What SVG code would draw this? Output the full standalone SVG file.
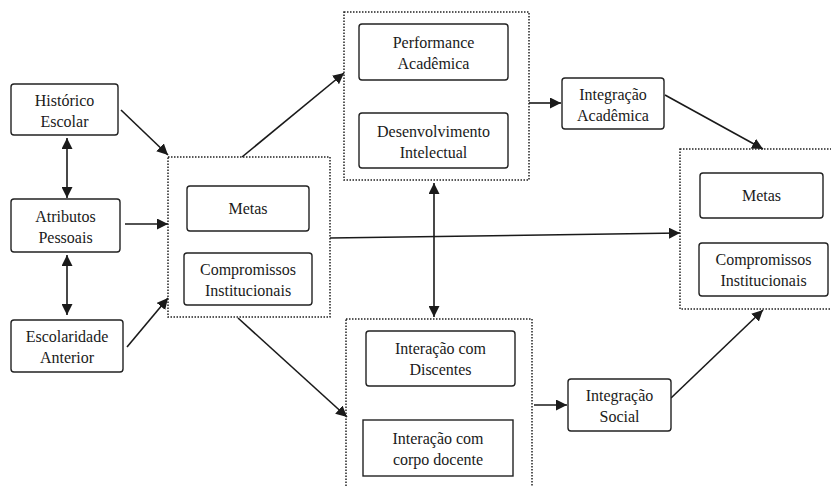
<svg xmlns="http://www.w3.org/2000/svg" width="831" height="486" viewBox="0 0 831 486">
<defs>
<marker id="ah" viewBox="0 0 10 10" refX="10" refY="5" markerWidth="11" markerHeight="11" markerUnits="userSpaceOnUse" orient="auto-start-reverse">
<path d="M0,0 L10,5 L0,10 z" fill="#1a1a1a"/>
</marker>
</defs>
<rect width="831" height="486" fill="#fff"/>
<g id="connectors" stroke="#1a1a1a" stroke-width="1.6" fill="none">
<line x1="121" y1="110" x2="168" y2="155" marker-end="url(#ah)"/>
<line x1="125" y1="224" x2="168" y2="224" marker-end="url(#ah)"/>
<line x1="127" y1="347" x2="168" y2="298" marker-end="url(#ah)"/>
<line x1="67" y1="138" x2="67" y2="198" marker-start="url(#ah)" marker-end="url(#ah)"/>
<line x1="67" y1="255" x2="67" y2="315" marker-start="url(#ah)" marker-end="url(#ah)"/>
<line x1="242" y1="157" x2="344" y2="73" marker-end="url(#ah)"/>
<line x1="238" y1="318" x2="347" y2="417" marker-end="url(#ah)"/>
<line x1="434" y1="183" x2="434" y2="317" marker-start="url(#ah)" marker-end="url(#ah)"/>
<line x1="529" y1="103" x2="561" y2="103" marker-end="url(#ah)"/>
<line x1="534" y1="405" x2="567" y2="405" marker-end="url(#ah)"/>
<line x1="330" y1="238" x2="680" y2="233" marker-end="url(#ah)"/>
<line x1="665" y1="95" x2="763" y2="149" marker-end="url(#ah)"/>
<line x1="671" y1="398" x2="763" y2="310" marker-end="url(#ah)"/>
</g>
<g id="grupos" fill="none" stroke="#222" stroke-width="1.5" stroke-dasharray="1.5 1.5">
<rect id="grupo-esquerda" x="168" y="157" width="162" height="160"/>
<rect id="grupo-topo" x="344" y="12" width="185" height="168"/>
<rect id="grupo-baixo" x="346" y="319" width="186" height="175"/>
<rect id="grupo-direita" x="680" y="149" width="160" height="160"/>
</g>
<g id="nodes" fill="#fff" stroke="#222" stroke-width="1.4">
<g id="historico">
<rect x="11" y="84" width="107" height="51" rx="3"/>
<text x="64.5" y="106" stroke="none" fill="#1a1a1a" text-anchor="middle" style="font-family:'Liberation Serif';font-size:16px">Histórico</text>
<text x="64.5" y="127" stroke="none" fill="#1a1a1a" text-anchor="middle" style="font-family:'Liberation Serif';font-size:16px">Escolar</text>
</g>
<g id="atributos">
<rect x="11" y="199" width="109" height="53" rx="3"/>
<text x="65.5" y="222" stroke="none" fill="#1a1a1a" text-anchor="middle" style="font-family:'Liberation Serif';font-size:16px">Atributos</text>
<text x="65.5" y="243" stroke="none" fill="#1a1a1a" text-anchor="middle" style="font-family:'Liberation Serif';font-size:16px">Pessoais</text>
</g>
<g id="escolaridade">
<rect x="11" y="320" width="112" height="52" rx="3"/>
<text x="67" y="342" stroke="none" fill="#1a1a1a" text-anchor="middle" style="font-family:'Liberation Serif';font-size:16px">Escolaridade</text>
<text x="67" y="363" stroke="none" fill="#1a1a1a" text-anchor="middle" style="font-family:'Liberation Serif';font-size:16px">Anterior</text>
</g>
<g id="metas1">
<rect x="187" y="186" width="122" height="45" rx="3"/>
<text x="248" y="214" stroke="none" fill="#1a1a1a" text-anchor="middle" style="font-family:'Liberation Serif';font-size:16px">Metas</text>
</g>
<g id="compromissos1">
<rect x="184" y="253" width="128" height="52" rx="3"/>
<text x="248" y="275" stroke="none" fill="#1a1a1a" text-anchor="middle" style="font-family:'Liberation Serif';font-size:16px">Compromissos</text>
<text x="248" y="296" stroke="none" fill="#1a1a1a" text-anchor="middle" style="font-family:'Liberation Serif';font-size:16px">Institucionais</text>
</g>
<g id="performance">
<rect x="359" y="24" width="149" height="56" rx="3"/>
<text x="433.5" y="48" stroke="none" fill="#1a1a1a" text-anchor="middle" style="font-family:'Liberation Serif';font-size:16px">Performance</text>
<text x="433.5" y="69" stroke="none" fill="#1a1a1a" text-anchor="middle" style="font-family:'Liberation Serif';font-size:16px">Acadêmica</text>
</g>
<g id="desenvolvimento">
<rect x="359" y="113" width="149" height="55" rx="3"/>
<text x="433.5" y="137" stroke="none" fill="#1a1a1a" text-anchor="middle" style="font-family:'Liberation Serif';font-size:16px">Desenvolvimento</text>
<text x="433.5" y="158" stroke="none" fill="#1a1a1a" text-anchor="middle" style="font-family:'Liberation Serif';font-size:16px">Intelectual</text>
</g>
<g id="integracao-academica">
<rect x="562" y="78" width="102" height="51" rx="3"/>
<text x="613" y="100" stroke="none" fill="#1a1a1a" text-anchor="middle" style="font-family:'Liberation Serif';font-size:16px">Integração</text>
<text x="613" y="121" stroke="none" fill="#1a1a1a" text-anchor="middle" style="font-family:'Liberation Serif';font-size:16px">Acadêmica</text>
</g>
<g id="discentes">
<rect x="366" y="331" width="149" height="55" rx="3"/>
<text x="440.5" y="354" stroke="none" fill="#1a1a1a" text-anchor="middle" style="font-family:'Liberation Serif';font-size:16px">Interação com</text>
<text x="440.5" y="375" stroke="none" fill="#1a1a1a" text-anchor="middle" style="font-family:'Liberation Serif';font-size:16px">Discentes</text>
</g>
<g id="docente">
<rect x="363" y="420" width="150" height="56"/>
<text x="438" y="444" stroke="none" fill="#1a1a1a" text-anchor="middle" style="font-family:'Liberation Serif';font-size:16px">Interação com</text>
<text x="438" y="465" stroke="none" fill="#1a1a1a" text-anchor="middle" style="font-family:'Liberation Serif';font-size:16px">corpo docente</text>
</g>
<g id="integracao-social">
<rect x="568" y="379" width="103" height="52" rx="3"/>
<text x="619.5" y="401" stroke="none" fill="#1a1a1a" text-anchor="middle" style="font-family:'Liberation Serif';font-size:16px">Integração</text>
<text x="619.5" y="422" stroke="none" fill="#1a1a1a" text-anchor="middle" style="font-family:'Liberation Serif';font-size:16px">Social</text>
</g>
<g id="metas2">
<rect x="700" y="173" width="123" height="45" rx="3"/>
<text x="761.5" y="201" stroke="none" fill="#1a1a1a" text-anchor="middle" style="font-family:'Liberation Serif';font-size:16px">Metas</text>
</g>
<g id="compromissos2">
<rect x="699" y="243" width="129" height="53" rx="3"/>
<text x="763.5" y="265" stroke="none" fill="#1a1a1a" text-anchor="middle" style="font-family:'Liberation Serif';font-size:16px">Compromissos</text>
<text x="763.5" y="286" stroke="none" fill="#1a1a1a" text-anchor="middle" style="font-family:'Liberation Serif';font-size:16px">Institucionais</text>
</g>
</g>
</svg>
